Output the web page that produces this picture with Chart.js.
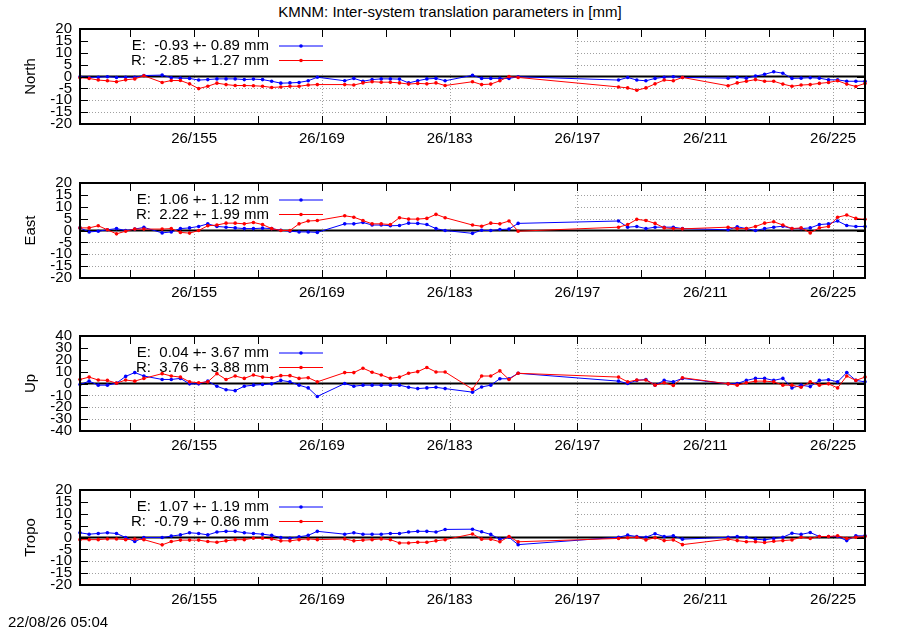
<!DOCTYPE html>
<html><head><meta charset="utf-8">
<script src="https://cdn.jsdelivr.net/npm/chart.js@4.4.0/dist/chart.umd.min.js"></script>
<style>
html,body{margin:0;padding:0;background:#fff;}
#wrap{position:relative;width:900px;height:630px;overflow:hidden;font-family:"Liberation Sans",Arial,sans-serif;color:#000;}
.panel{position:absolute;left:0;width:900px;height:135px;}
#title{position:absolute;left:0;width:900px;top:3px;text-align:center;font-size:15px;line-height:18px;}
#stamp{position:absolute;left:8px;top:613px;font-size:15px;line-height:18px;}
</style></head>
<body><div id="wrap">
<div id="title">KMNM: Inter-system translation parameters in [mm]</div>
<div class="panel" style="top:19px"><canvas id="c0" width="900" height="135"></canvas></div>
<div class="panel" style="top:173px"><canvas id="c1" width="900" height="135"></canvas></div>
<div class="panel" style="top:326px"><canvas id="c2" width="900" height="135"></canvas></div>
<div class="panel" style="top:480px"><canvas id="c3" width="900" height="135"></canvas></div>
<div id="stamp">22/08/26 05:04</div>
</div>
<script>
// ---- data ----
const days = [142,143,144,145,146,147,148,149,
  151,152,153,154,155,156,157,158,159,160,161,162,163,164,165,166,167,168,
  171,172,173,174,175,176,177,178,179,180,181,182,
  185,186,187,188,189,190,
  201,202,203,204,205,206,207,208,
  213,214,215,216,217,218,219,220,221,222,223,224,225,226,227,228];
const epochOffset = 0.5; // observations at noon of each day

const northE = [-0.1,-0.4,-0.3,-0.1,-0.4,-0.3,-0.3,0.4,
  0.6,-0.5,-0.7,-0.8,-1.5,-1.3,-1.0,-1.0,-1.0,-1.3,-1.1,-1.3,-2.0,-2.8,-2.7,-2.5,-1.8,-0.3,
  -1.8,-0.8,-2.0,-1.3,-1.0,-1.0,-1.1,-2.7,-1.8,-1.0,-0.8,-1.8,
  0.5,-0.8,-0.8,-0.8,-0.8,-0.1,
  -1.5,-0.4,-1.5,-1.8,-0.8,-0.3,-0.1,-0.4,
  -0.7,-0.4,-0.7,0.2,0.9,2.0,1.4,-0.8,-0.7,-0.5,-0.7,-1.4,-1.4,-2.0,-2.0,-2.0];
const northR = [-0.5,-0.8,-1.5,-1.8,-2.2,-1.4,-1.0,0.3,
  -2.5,-1.7,-1.7,-3.1,-5.1,-4.1,-2.8,-3.4,-3.8,-3.8,-3.9,-4.1,-4.6,-4.4,-4.1,-4.1,-3.6,-3.4,
  -3.4,-3.6,-2.7,-2.2,-2.4,-2.4,-2.7,-3.2,-2.9,-3.1,-2.7,-3.8,
  -2.2,-3.4,-3.2,-1.8,0.0,-0.4,
  -4.4,-4.8,-5.8,-4.8,-3.1,-1.5,-1.8,-0.4,
  -3.9,-2.7,-2.0,-1.3,-2.0,-2.0,-3.2,-4.1,-3.6,-3.4,-2.9,-2.5,-1.8,-3.2,-4.2,-2.9];
const eastE = [1.1,-0.6,-0.3,0.3,0.8,0.0,0.6,1.3,
  -1.0,-0.6,0.8,1.1,1.7,2.8,1.7,1.4,1.1,0.8,0.8,1.0,0.8,0.1,-0.3,-0.6,-0.6,-0.8,
  2.8,2.8,3.4,2.3,2.3,2.0,2.1,3.1,3.0,2.5,0.8,0.0,
  -1.2,0.1,0.0,0.4,0.6,3.0,
  4.0,1.4,1.7,0.8,1.4,1.4,1.4,0.8,
  0.3,1.6,0.8,0.0,0.8,1.4,1.8,0.8,0.8,1.1,2.5,2.8,4.0,2.1,1.7,1.7];
const eastR = [1.1,1.1,2.0,0.3,-1.4,-0.3,0.6,0.6,
  0.6,0.8,-0.8,-1.1,0.0,2.0,2.3,3.1,3.1,2.8,3.4,2.5,0.8,0.0,0.0,2.8,4.0,4.2,
  6.2,5.6,4.2,2.8,2.8,2.5,5.4,4.8,4.8,5.1,6.8,5.4,
  2.3,1.8,3.1,2.8,4.0,-0.3,
  1.4,2.5,4.7,4.2,3.0,1.1,0.8,0.7,
  1.4,0.8,0.8,1.7,3.1,3.7,2.3,0.8,1.1,-1.0,1.1,1.7,5.6,6.5,5.1,4.7];
const upE = [-0.9,2.0,-1.4,-1.4,0.3,6.0,9.2,6.3,
  3.4,3.4,4.3,-0.3,-0.3,2.0,-2.3,-5.2,-6.0,-2.3,-1.4,-0.9,-0.3,2.6,1.4,-1.4,-3.7,-10.9,
  0.0,-2.3,-1.4,-1.4,-1.4,-1.4,-1.4,-3.2,-4.3,-3.7,-3.2,-4.3,
  -7.3,-2.9,-1.4,4.0,4.0,8.6,
  2.0,0.0,2.6,3.4,-1.4,2.6,1.4,4.3,
  -0.3,0.0,2.6,4.3,4.3,2.6,4.3,-3.7,-1.4,-2.6,2.6,3.2,1.4,9.2,2.6,1.4];
const upR = [3.4,5.4,2.9,2.6,0.3,2.9,2.0,4.3,
  8.3,6.3,5.4,1.4,0.6,1.4,8.3,3.4,6.3,4.3,7.2,5.4,4.9,6.6,6.6,4.3,4.9,1.4,
  9.2,9.2,12.9,9.5,7.2,4.3,5.4,8.6,10.0,13.5,9.7,9.7,
  -4.8,6.3,6.3,10.6,3.4,8.6,
  5.4,1.4,2.9,2.9,-1.4,0.6,-1.7,4.9,
  -0.3,-1.4,0.6,2.0,2.0,1.4,-1.4,-1.4,-3.2,1.4,-1.4,-0.3,-3.7,6.3,2.6,5.4];
const tropoE = [2.0,1.4,1.7,2.0,1.7,0.0,-1.7,0.0,
  0.0,0.6,1.1,2.0,1.7,1.1,2.3,2.6,2.6,2.0,1.7,1.4,0.9,0.0,-0.3,0.3,0.9,2.6,
  1.4,2.0,1.4,1.4,1.4,1.7,1.7,2.3,2.6,2.6,2.3,3.4,
  3.5,2.4,1.3,-0.7,0.1,-3.0,
  0.1,1.0,0.4,0.1,1.6,0.4,0.7,-0.7,
  0.1,0.4,0.1,-0.7,-1.0,-0.4,0.1,1.8,1.3,2.1,0.4,0.4,0.4,-1.3,0.7,0.7];
const tropoR = [-0.9,-0.9,-0.9,-0.6,-0.6,-0.9,-0.6,-0.9,
  -3.1,-1.7,-1.1,-1.1,-1.1,-1.7,-2.0,-1.4,-0.9,-0.9,-0.3,-0.3,-0.6,-1.4,-1.4,-0.9,-0.6,-0.9,
  -0.6,-1.4,-1.1,-0.9,-0.6,-0.9,-2.3,-2.3,-2.0,-2.0,-1.4,-0.9,
  1.5,-0.7,-0.7,-1.8,0.4,-1.8,
  -0.4,-0.1,0.1,-1.0,-0.1,-1.3,-1.0,-3.0,
  -0.7,-1.3,-1.8,-1.8,-2.1,-1.6,-1.3,-1.0,0.1,-0.4,0.4,0.4,0.7,-0.4,0.1,0.4];

const panelNames = ['North','East','Up','Tropo'];
const legendE = ['E:  -0.93 +- 0.89 mm','E:  1.06 +- 1.12 mm','E:  0.04 +- 3.67 mm','E:  1.07 +- 1.19 mm'];
const legendR = ['R:  -2.85 +- 1.27 mm','R:  2.22 +- 1.99 mm','R:  3.76 +- 3.88 mm','R:  -0.79 +- 0.86 mm'];
const yMax = [20,20,40,20];
const yStep = [5,5,10,5];
const xTicks = [148,155,162,169,176,183,190,197,204,211,218,225];
const xLabelTicks = [155,169,183,197,211,225];
const yearPrefix = '26/';
const xMin = 142.5, xMax = 228.5;

// ---- drawing ----
const FONT = '"Liberation Sans", Arial, sans-serif';
const FS = 15;
const seriesE = [northE, eastE, upE, tropoE];
const seriesR = [northR, eastR, upR, tropoR];
const BLUE = '#0000ff', RED = '#ff0000', GRID = '#a0a0a0';

const gnuplotLook = {
  id: 'gnuplotLook',
  beforeDatasetsDraw(chart) {
    const {ctx, chartArea: a, scales: {x, y}} = chart;
    const zy = y.getPixelForValue(0);
    ctx.save();
    ctx.strokeStyle = GRID;
    ctx.lineWidth = 1;
    ctx.setLineDash([1, 2]);
    ctx.beginPath();
    xLabelTicks.forEach(v => {
      const px = Math.round(x.getPixelForValue(v)) + 0.5;
      ctx.moveTo(px, a.top); ctx.lineTo(px, a.bottom);
    });
    y.ticks.forEach(t => {
      if (t.value === 0 || t.value === y.min || t.value === y.max) return;
      const py = Math.round(y.getPixelForValue(t.value)) + 0.5;
      ctx.moveTo(a.left, py); ctx.lineTo(a.right, py);
    });
    ctx.stroke();
    ctx.setLineDash([]);
    const bx = x.getPixelForValue(196.7);
    ctx.fillStyle = '#fff';
    ctx.fillRect(a.left + 1, a.top + 1, bx - a.left - 1, zy - 2 - a.top - 1);
    ctx.strokeStyle = '#000';
    ctx.lineWidth = 2;
    ctx.beginPath(); ctx.moveTo(a.left, zy); ctx.lineTo(a.right, zy); ctx.stroke();
    ctx.restore();
  },
  afterDatasetsDraw(chart, args, opts) {
    const {ctx, chartArea: a, scales: {x, y}} = chart;
    ctx.save();
    ctx.strokeStyle = '#000';
    ctx.lineWidth = 1;
    ctx.beginPath();
    y.ticks.forEach(t => {
      const py = Math.round(y.getPixelForValue(t.value)) + 0.5;
      ctx.moveTo(a.left, py); ctx.lineTo(a.left + 8, py);
      ctx.moveTo(a.right, py); ctx.lineTo(a.right - 8, py);
    });
    xTicks.forEach(v => {
      const px = Math.round(x.getPixelForValue(v)) + 0.5;
      ctx.moveTo(px, a.bottom); ctx.lineTo(px, a.bottom - 8);
      ctx.moveTo(px, a.top); ctx.lineTo(px, a.top + 8);
    });
    ctx.stroke();
    ctx.lineWidth = 2;
    ctx.strokeRect(a.left, a.top, a.right - a.left, a.bottom - a.top);
    const i = opts.idx;
    const tx = a.left + 189;
    const rows = [[legendE[i], BLUE, a.top + 17], [legendR[i], RED, a.top + 31.5]];
    ctx.font = FS + 'px ' + FONT;
    ctx.textAlign = 'right';
    ctx.textBaseline = 'middle';
    rows.forEach(([txt, col, ry]) => {
      ctx.fillStyle = '#000';
      ctx.fillText(txt, tx, ry);
      ctx.strokeStyle = col; ctx.lineWidth = 1;
      ctx.beginPath(); ctx.moveTo(tx + 10, ry); ctx.lineTo(tx + 54, ry); ctx.stroke();
      ctx.fillStyle = col;
      ctx.beginPath(); ctx.arc(tx + 32, ry, 1.8, 0, Math.PI * 2); ctx.fill();
    });
    ctx.restore();
  }
};

function makePanel(i) {
  const toPts = arr => days.map((d, k) => ({x: d + epochOffset, y: arr[k]}));
  const m = yMax[i];
  new Chart(document.getElementById('c' + i), {
    type: 'line',
    data: {
      datasets: [
        {label: 'E', data: toPts(seriesE[i]), borderColor: BLUE, backgroundColor: BLUE,
         borderWidth: 1, pointRadius: 1.8, pointBorderWidth: 0, pointBackgroundColor: BLUE,
         tension: 0, clip: false, order: 2},
        {label: 'R', data: toPts(seriesR[i]), borderColor: RED, backgroundColor: RED,
         borderWidth: 1, pointRadius: 1.8, pointBorderWidth: 0, pointBackgroundColor: RED,
         tension: 0, clip: false, order: 1}
      ]
    },
    options: {
      responsive: false,
      animation: false,
      events: [],
      layout: {padding: {left: 22, right: 35, top: 10, bottom: 0}},
      plugins: {legend: {display: false}, tooltip: {enabled: false}, title: {display: false},
                gnuplotLook: {idx: i}},
      scales: {
        x: {
          type: 'linear', min: xMin, max: xMax,
          afterBuildTicks: s => { s.ticks = xTicks.map(v => ({value: v})); },
          ticks: {autoSkip: false, maxRotation: 0, color: '#000', font: {family: FONT, size: FS}, padding: 6,
                  callback: v => xLabelTicks.includes(v) ? yearPrefix + v : ''},
          grid: {display: false, drawTicks: false},
          border: {display: false},
          afterFit: s => { s.height = 30; }
        },
        y: {
          min: -m, max: m,
          ticks: {stepSize: yStep[i], autoSkip: false, color: '#000', font: {family: FONT, size: FS, lineHeight: 1}, padding: 8},
          grid: {display: false, drawTicks: false},
          border: {display: false},
          title: {display: true, text: panelNames[i], color: '#000', font: {family: FONT, size: FS}, padding: 0},
          afterFit: s => { s.width = 58; s.paddingTop = 0; s.paddingBottom = 0; }
        }
      }
    },
    plugins: [gnuplotLook]
  });
}
[0, 1, 2, 3].forEach(makePanel);
</script>
</body></html>
